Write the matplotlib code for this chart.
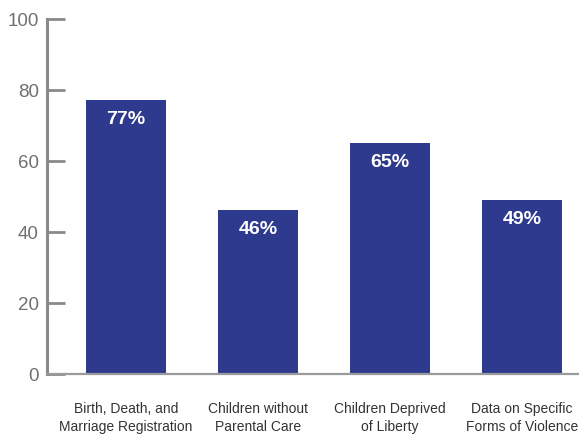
import matplotlib
matplotlib.use("Agg")
import matplotlib.pyplot as plt
from matplotlib import font_manager

categories = ["Birth, Death, and\nMarriage Registration", "Children without\nParental Care",
              "Children Deprived\nof Liberty", "Data on Specific\nForms of Violence"]
values = [77, 46, 65, 49]
yticks = [0, 20, 40, 60, 80, 100]

names = {f.name for f in font_manager.fontManager.ttflist}
narrow = "Liberation Sans Narrow" if "Liberation Sans Narrow" in names else "Liberation Sans"
plt.rcParams["font.family"] = [narrow, "DejaVu Sans"]

bar_color = "#2e3a8e"
axis_gray = "#8a8a8a"

fig = plt.figure(figsize=(5.79, 4.35), dpi=100)
ax = fig.add_axes([47 / 579, 60 / 435, 532 / 579, 355.5 / 435])

x = range(len(categories))
ax.bar(x, values, width=0.606, color=bar_color, zorder=2)

for xi, v in zip(x, values):
    ax.annotate(f"{v}%", (xi, v), xytext=(0, -7), textcoords="offset points",
                ha="center", va="top", color="white", fontsize=14, fontweight="bold")

ax.set_xlim(-0.598, 3.43)
ax.set_ylim(0, 100)
ax.set_yticks(yticks)
ax.set_xticks(list(x))
ax.set_xticklabels(categories, fontsize=10, color="#333333", linespacing=1.4)
ax.tick_params(axis="x", length=0, pad=19.5)
ax.tick_params(axis="y", direction="in", length=13, width=2, color=axis_gray,
               labelcolor="#707070", labelsize=13.5, pad=6)

for s in ["top", "right"]:
    ax.spines[s].set_visible(False)
ax.spines["left"].set_color(axis_gray)
ax.spines["left"].set_linewidth(2.2)
ax.spines["bottom"].set_color("#9a9a9a")
ax.spines["bottom"].set_linewidth(1.6)

fig.savefig("out.png", dpi=100)
